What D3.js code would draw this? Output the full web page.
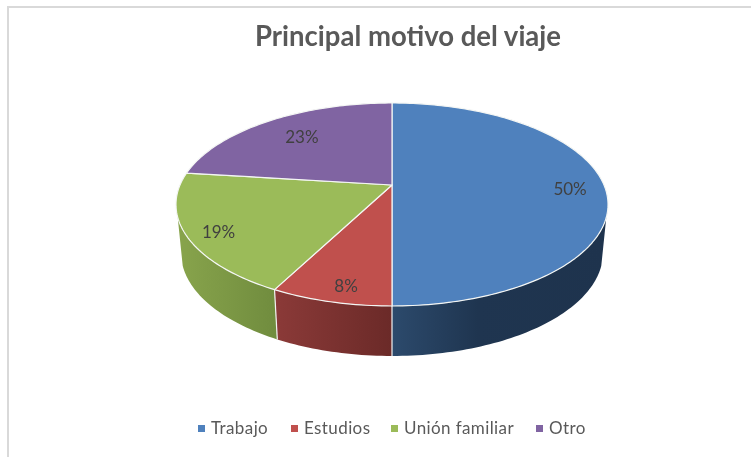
<!DOCTYPE html>
<html>
<head>
<meta charset="utf-8">
<style>
html,body{margin:0;padding:0;background:#fff;}
svg{display:block;filter:blur(0.35px);}
text{font-family:Lato,"Open Sans",sans-serif;}
</style>
<script src="https://cdn.jsdelivr.net/npm/d3@7"></script>
</head>
<body>
<svg id="c" width="751" height="457"></svg>
<script>
const categories = ["Trabajo","Estudios","Unión familiar","Otro"];
const values = [50,7.6,19.4,23];
const labels = ["50%","8%","19%","23%"];
const topColors = ["#4f81bd","#c0504d","#9bbb59","#8064a2"];
const titleText = "Principal motivo del viaje";

const svg = d3.select("#c");
const defs = svg.append("defs");

// chart frame
svg.append("path").attr("d","M8,457V7H751").attr("fill","none").attr("stroke","#d9d9d9").attr("stroke-width",2);

// perspective projection of the disc
const k = 0.192;
const faceTop = {cx:392, cy:185, A:212, B:97.75};
const faceBot = {cx:392, cy:233.2, A:207, B:99.2};
function proj(p, a, r=1){
  const u = Math.sin(a)*r, v = -Math.cos(a)*r, w = 1 - k*v;
  return [p.cx + p.A*u/w, p.cy + p.B*v/w];
}
const pie = d3.pie().sort(null).value(d=>d).startAngle(0).endAngle(2*Math.PI);
const arcs = pie(values);
const line = d3.line();
const sample = (a0,a1)=>{const n=Math.max(2,Math.ceil(Math.abs(a1-a0)/0.02));return d3.range(n+1).map(i=>a0+(a1-a0)*i/n);};

// side wall
const wallMin = 108*Math.PI/180, wallMax = 252*Math.PI/180;
const wallStops = [
  [["0","#2c4a6c"],["0.4","#1f3550"],["1","#1e334d"]],
  [["0","#8b3a38"],["1","#6b2a28"]],
  [["0","#88a44c"],["1","#708c3e"]],
  [["0","#88a44c"],["1","#708c3e"]]
];
arcs.forEach((d,i)=>{
  const a0 = Math.max(d.startAngle,wallMin), a1 = Math.min(d.endAngle,wallMax);
  if(a1<=a0) return;
  const pts = sample(a0,a1);
  const poly = pts.map(a=>proj(faceTop,a)).concat(pts.slice().reverse().map(a=>proj(faceBot,a)));
  const xs = d3.extent(poly,p=>p[0]);
  const g = defs.append("linearGradient").attr("id","wall"+i).attr("gradientUnits","userSpaceOnUse")
    .attr("x1",xs[0]).attr("x2",xs[1]).attr("y1",0).attr("y2",0);
  wallStops[i].forEach(s=>g.append("stop").attr("offset",s[0]).attr("stop-color",s[1]));
  svg.append("path").attr("d",line(poly)+"Z").attr("fill","url(#wall"+i+")");
});
arcs.forEach((d,i)=>{
  if(d.startAngle>wallMin && d.startAngle<wallMax){
    svg.append("path").attr("d",line([proj(faceTop,d.startAngle),proj(faceBot,d.startAngle)]))
      .attr("stroke","#f2f2f2").attr("stroke-width",1.2).attr("fill","none");
  }
});

// top face
arcs.forEach((d,i)=>{
  const pts = sample(d.startAngle,d.endAngle).map(a=>proj(faceTop,a));
  svg.append("path").attr("d",line([[faceTop.cx,faceTop.cy]].concat(pts))+"Z")
    .attr("fill",topColors[i]).attr("stroke","#f4f6f4").attr("stroke-width",1.2).attr("stroke-linejoin","round");
});

// data labels
const labelR = 0.84;
const labelNudge = [[0,3],[4,6],[-3,5],[15,6]];
arcs.forEach((d,i)=>{
  const p = proj(faceTop,(d.startAngle+d.endAngle)/2,labelR);
  svg.append("text").attr("x",p[0]+labelNudge[i][0]).attr("y",p[1]+labelNudge[i][1])
    .attr("text-anchor","middle").attr("dominant-baseline","central")
    .attr("font-size",17).attr("fill","#404040").text(labels[i]);
});

// title
svg.append("text").attr("x",255).attr("y",46)
  .attr("font-size",29).attr("font-weight",700).attr("fill","#595959")
  .attr("textLength",306).attr("lengthAdjust","spacingAndGlyphs").text(titleText);

// legend
const legendStarts = [198,291,391,536];
categories.forEach((c,i)=>{
  svg.append("rect").attr("x",legendStarts[i]).attr("y",425).attr("width",7).attr("height",7).attr("fill",topColors[i]);
  svg.append("text").attr("x",legendStarts[i]+13).attr("y",434).attr("font-size",17)
    .attr("letter-spacing",0.4).attr("fill","#595959").text(c);
});
</script>
</body>
</html>
